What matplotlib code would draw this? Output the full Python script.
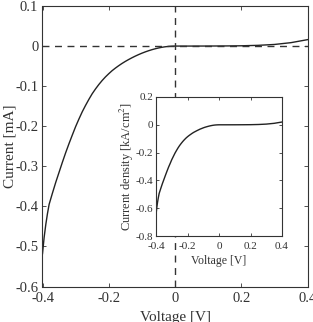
import numpy as np
import matplotlib
matplotlib.use('Agg')
import matplotlib.pyplot as plt

# curva I-V
voltage = [-0.400, -0.395, -0.390, -0.385, -0.38, -0.37, -0.36, -0.35, -0.34, -0.33,
           -0.32, -0.31, -0.30, -0.29, -0.28, -0.27, -0.26, -0.25, -0.24, -0.23,
           -0.22, -0.21, -0.20, -0.19, -0.18, -0.17, -0.16, -0.15, -0.14, -0.13,
           -0.12, -0.11, -0.10, -0.09, -0.08, -0.07, -0.06, -0.05, -0.04, -0.03,
           -0.02, -0.01, 0.0, 0.05, 0.10, 0.15, 0.20, 0.25, 0.30, 0.35, 0.40]
current_mA = [-0.518, -0.477, -0.445, -0.418, -0.395, -0.367, -0.340, -0.315, -0.290, -0.266,
              -0.2435, -0.222, -0.201, -0.182, -0.164, -0.148, -0.133, -0.119, -0.107, -0.096,
              -0.086, -0.077, -0.069, -0.0615, -0.055, -0.049, -0.0434, -0.0383, -0.0336, -0.0292,
              -0.0251, -0.0213, -0.0178, -0.0146, -0.0117, -0.0091, -0.0068, -0.0048, -0.0031, -0.0018,
              -0.0009, -0.0003, 0.0, 0.0, 0.0001, 0.0003, 0.0007, 0.0018, 0.004, 0.0085, 0.016]
# densidad de corriente del recuadro (kA/cm^2)
density = [-0.648, -0.596, -0.556, -0.523, -0.494, -0.459, -0.425, -0.394, -0.363, -0.333,
           -0.304, -0.278, -0.251, -0.228, -0.205, -0.185, -0.166, -0.149, -0.134, -0.12,
           -0.1075, -0.096, -0.086, -0.077, -0.069, -0.061, -0.054, -0.048, -0.042, -0.0365,
           -0.031, -0.0266, -0.022, -0.018, -0.0146, -0.0114, -0.0085, -0.006, -0.0039, -0.0022,
           -0.0011, -0.0004, 0.0, 0.0, 0.0001, 0.0004, 0.0009, 0.0022, 0.005, 0.0106, 0.02]

main_xticks = [-0.4, -0.2, 0, 0.2, 0.4]
main_yticks = [0.1, 0, -0.1, -0.2, -0.3, -0.4, -0.5, -0.6]
inset_yticks = [0.2, 0, -0.2, -0.4, -0.6, -0.8]

def fmt(v):
    return '0' if v == 0 else f'{v:.1f}'

plt.rcParams['font.family'] = ['Liberation Serif', 'DejaVu Serif']
plt.rcParams['mathtext.fontset'] = 'stix'
plt.rcParams['xtick.direction'] = 'in'
plt.rcParams['ytick.direction'] = 'in'
plt.rcParams['axes.unicode_minus'] = False

fig = plt.figure(figsize=(3.13, 3.22), dpi=100)
ax = fig.add_axes([42.5 / 313, 1 - 286.5 / 322, 265 / 313, 280.5 / 322])

ax.plot(voltage, current_mA, color='#222222', linewidth=1.0)
ax.axhline(0, color='#333333', linestyle=(0, (5, 4)), linewidth=1.0)
ax.axvline(0, color='#333333', linestyle=(0, (5, 4)), linewidth=1.0)
ax.set_xlim(-0.4, 0.4)
ax.set_ylim(-0.6, 0.1)
ax.set_xticks(main_xticks)
ax.set_xticklabels([fmt(v) for v in main_xticks])
ax.set_yticks(main_yticks)
ax.set_yticklabels([fmt(v) for v in main_yticks])
ax.tick_params(labelsize=10.5, length=3, width=0.6, top=True, right=True, pad=3, colors='#333333')
ax.tick_params(axis='x', pad=4)
ax.set_xlabel('Voltage [V]', fontsize=11, labelpad=4, color='#333333')
ax.set_ylabel('Current [mA]', fontsize=11, color='#333333')
ax.yaxis.set_label_coords(-0.098, 0.5)
for s in ax.spines.values():
    s.set_linewidth(0.8)
    s.set_color('#333333')

ins = fig.add_axes([156 / 313, 1 - 236 / 322, 126 / 313, 139 / 322])
ins.plot(voltage, density, color='#222222', linewidth=1.0)
ins.set_xlim(-0.4, 0.4)
ins.set_ylim(-0.8, 0.2)
ins.set_xticks(main_xticks)
ins.set_xticklabels([fmt(v) for v in main_xticks])
ins.set_yticks(inset_yticks)
ins.set_yticklabels([fmt(v) for v in inset_yticks])
ins.tick_params(labelsize=8, length=2.5, width=0.6, top=True, right=True, pad=2, colors='#333333')
ins.tick_params(axis='x', pad=4)
ins.set_xlabel('Voltage [V]', fontsize=8.5, labelpad=3, color='#333333')
ins.set_ylabel('Current density [kA/cm$^2$]', fontsize=9, color='#333333')
ins.yaxis.set_label_coords(-0.155, 0.5)
for s in ins.spines.values():
    s.set_linewidth(0.8)
    s.set_color('#333333')

fig.savefig('out.png', dpi=100)
